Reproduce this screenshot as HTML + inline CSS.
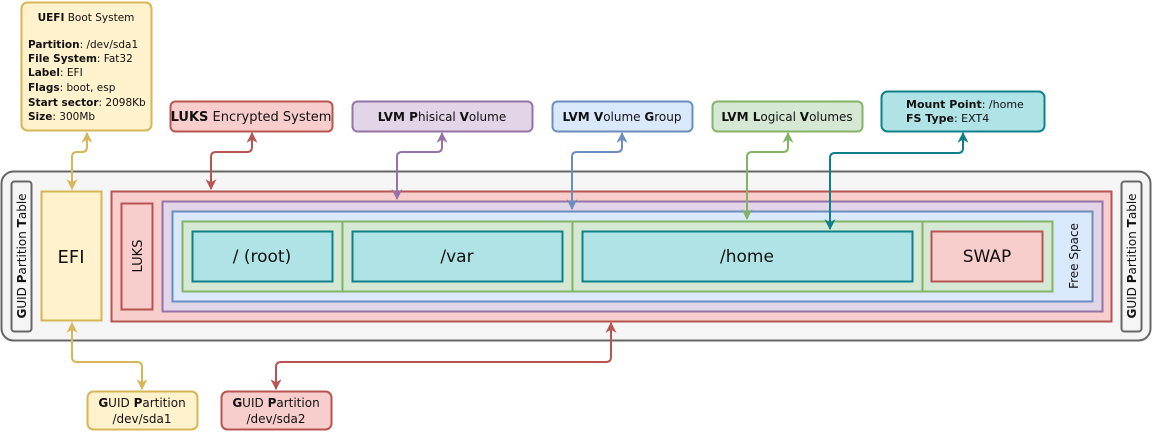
<!DOCTYPE html>
<html><head><meta charset="utf-8"><style>
html,body{margin:0;padding:0;background:#fff;}
svg{display:block;}
text{font-family:"DejaVu Sans","Liberation Sans",sans-serif;fill:#111;}
</style></head><body>
<svg width="1152" height="432" viewBox="0 0 1152 432" xmlns="http://www.w3.org/2000/svg">
<defs>
<marker id="my" viewBox="0 0 10 10" refX="9" refY="5" markerWidth="5.5" markerHeight="5.5" orient="auto-start-reverse"><path d="M0,0 L10,5 L0,10 L3,5 z" fill="#d6b656"/></marker>
<marker id="mr" viewBox="0 0 10 10" refX="9" refY="5" markerWidth="5.5" markerHeight="5.5" orient="auto-start-reverse"><path d="M0,0 L10,5 L0,10 L3,5 z" fill="#b85450"/></marker>
<marker id="mp" viewBox="0 0 10 10" refX="9" refY="5" markerWidth="5.5" markerHeight="5.5" orient="auto-start-reverse"><path d="M0,0 L10,5 L0,10 L3,5 z" fill="#9673a6"/></marker>
<marker id="mb" viewBox="0 0 10 10" refX="9" refY="5" markerWidth="5.5" markerHeight="5.5" orient="auto-start-reverse"><path d="M0,0 L10,5 L0,10 L3,5 z" fill="#6c8ebf"/></marker>
<marker id="mg" viewBox="0 0 10 10" refX="9" refY="5" markerWidth="5.5" markerHeight="5.5" orient="auto-start-reverse"><path d="M0,0 L10,5 L0,10 L3,5 z" fill="#82b366"/></marker>
<marker id="mt" viewBox="0 0 10 10" refX="9" refY="5" markerWidth="5.5" markerHeight="5.5" orient="auto-start-reverse"><path d="M0,0 L10,5 L0,10 L3,5 z" fill="#0e8088"/></marker>
</defs>

<rect x="1.5" y="171.5" width="1149" height="169" rx="12" fill="#f5f5f5" stroke="#666" stroke-width="2"/>
<rect x="11.5" y="181.5" width="20" height="150" rx="3" fill="#f5f5f5" stroke="#666" stroke-width="2"/>
<rect x="1121.5" y="181.5" width="20" height="150" rx="3" fill="#f5f5f5" stroke="#666" stroke-width="2"/>
<text transform="translate(26,256) rotate(-90)" font-size="12" text-anchor="middle"><tspan font-weight="bold">G</tspan>UID <tspan font-weight="bold">P</tspan>artition <tspan font-weight="bold">T</tspan>able</text>
<text transform="translate(1136,256) rotate(-90)" font-size="12" text-anchor="middle"><tspan font-weight="bold">G</tspan>UID <tspan font-weight="bold">P</tspan>artition <tspan font-weight="bold">T</tspan>able</text>

<rect x="41.5" y="191.5" width="60" height="129" fill="#fff2cc" stroke="#d6b656" stroke-width="2"/>
<text x="71" y="263" font-size="18" text-anchor="middle">EFI</text>

<rect x="111.5" y="191.5" width="1000" height="130" fill="#f8cecc" stroke="#b85450" stroke-width="2"/>
<rect x="121.5" y="203.5" width="31" height="106" fill="#f8cecc" stroke="#b85450" stroke-width="2"/>
<text transform="translate(142,256) rotate(-90)" font-size="13" text-anchor="middle">LUKS</text>

<rect x="162.5" y="201.5" width="940" height="110" fill="#e1d5e7" stroke="#9673a6" stroke-width="2"/>
<rect x="172.5" y="211.5" width="920" height="90" fill="#dae8fc" stroke="#6c8ebf" stroke-width="2"/>
<text transform="translate(1078,256) rotate(-90)" font-size="12" text-anchor="middle">Free Space</text>

<g fill="#d5e8d4" stroke="#82b366" stroke-width="2">
<rect x="182.5" y="221.5" width="160" height="70"/>
<rect x="342.5" y="221.5" width="230" height="70"/>
<rect x="572.5" y="221.5" width="350" height="70"/>
<rect x="922.5" y="221.5" width="130" height="70"/>
</g>
<g fill="#b0e3e6" stroke="#0e8088" stroke-width="2">
<rect x="192.5" y="231.5" width="140" height="50"/>
<rect x="352.5" y="231.5" width="210" height="50"/>
<rect x="582.5" y="231.5" width="330" height="50"/>
</g>
<rect x="931.5" y="231.5" width="111" height="50" fill="#f8cecc" stroke="#b85450" stroke-width="2"/>
<g font-size="17" text-anchor="middle">
<text x="262" y="262">/ (root)</text>
<text x="457" y="262">/var</text>
<text x="747" y="262">/home</text>
<text x="987" y="262">SWAP</text>
</g>

<rect x="21.5" y="2.5" width="130" height="128" rx="6" fill="#fff2cc" stroke="#d6b656" stroke-width="2"/>
<g font-size="10.5">
<text x="86" y="21" text-anchor="middle"><tspan font-weight="bold">UEFI</tspan> Boot System</text>
<text x="28" y="48"><tspan font-weight="bold">Partition</tspan>: /dev/sda1</text>
<text x="28" y="62"><tspan font-weight="bold">File System</tspan>: Fat32</text>
<text x="28" y="76"><tspan font-weight="bold">Label</tspan>: EFI</text>
<text x="28" y="91"><tspan font-weight="bold">Flags</tspan>: boot, esp</text>
<text x="28" y="106"><tspan font-weight="bold">Start sector</tspan>: 2098Kb</text>
<text x="28" y="120"><tspan font-weight="bold">Size</tspan>: 300Mb</text>
</g>
<rect x="170.5" y="101.5" width="162" height="30" rx="5" fill="#f8cecc" stroke="#b85450" stroke-width="2"/>
<text x="251" y="121" font-size="13" text-anchor="middle"><tspan font-weight="bold">LUKS</tspan> Encrypted System</text>
<rect x="352.5" y="101.5" width="180" height="30" rx="5" fill="#e1d5e7" stroke="#9673a6" stroke-width="2"/>
<text x="442" y="121" font-size="12" text-anchor="middle"><tspan font-weight="bold">LVM P</tspan>hisical <tspan font-weight="bold">V</tspan>olume</text>
<rect x="552.5" y="101.5" width="140" height="30" rx="5" fill="#dae8fc" stroke="#6c8ebf" stroke-width="2"/>
<text x="622" y="121" font-size="12" text-anchor="middle"><tspan font-weight="bold">LVM V</tspan>olume <tspan font-weight="bold">G</tspan>roup</text>
<rect x="712.5" y="101.5" width="150" height="30" rx="5" fill="#d5e8d4" stroke="#82b366" stroke-width="2"/>
<text x="787" y="121" font-size="12" text-anchor="middle"><tspan font-weight="bold">LVM L</tspan>ogical <tspan font-weight="bold">V</tspan>olumes</text>
<rect x="881.5" y="91.5" width="163" height="40" rx="6" fill="#b0e3e6" stroke="#0e8088" stroke-width="2"/>
<text x="906" y="108" font-size="11"><tspan font-weight="bold">Mount Point</tspan>: /home</text>
<text x="906" y="122" font-size="11"><tspan font-weight="bold">FS Type</tspan>: EXT4</text>

<rect x="87.5" y="391.5" width="110" height="38" rx="6" fill="#fff2cc" stroke="#d6b656" stroke-width="2"/>
<text x="142" y="407" font-size="12" text-anchor="middle"><tspan font-weight="bold">G</tspan>UID <tspan font-weight="bold">P</tspan>artition</text>
<text x="142" y="423" font-size="12" text-anchor="middle">/dev/sda1</text>
<rect x="221.5" y="391.5" width="110" height="38" rx="6" fill="#f8cecc" stroke="#b85450" stroke-width="2"/>
<text x="276" y="407" font-size="12" text-anchor="middle"><tspan font-weight="bold">G</tspan>UID <tspan font-weight="bold">P</tspan>artition</text>
<text x="276" y="423" font-size="12" text-anchor="middle">/dev/sda2</text>

<g fill="none" stroke-width="2">
<path d="M87,133 L87,147 Q87,152 82,152 L77,152 Q72,152 72,157 L72,189" stroke="#d6b656" marker-start="url(#my)" marker-end="url(#my)"/>
<path d="M252,133 L252,147 Q252,152 247,152 L216,152 Q211,152 211,157 L211,189" stroke="#b85450" marker-start="url(#mr)" marker-end="url(#mr)"/>
<path d="M442,133 L442,147 Q442,152 437,152 L402,152 Q397,152 397,157 L397,199" stroke="#9673a6" marker-start="url(#mp)" marker-end="url(#mp)"/>
<path d="M622,133 L622,147 Q622,152 617,152 L577,152 Q572,152 572,157 L572,209" stroke="#6c8ebf" marker-start="url(#mb)" marker-end="url(#mb)"/>
<path d="M788,133 L788,147 Q788,152 783,152 L752,152 Q747,152 747,157 L747,219" stroke="#82b366" marker-start="url(#mg)" marker-end="url(#mg)"/>
<path d="M963,133 L963,148 Q963,153 958,153 L835,153 Q830,153 830,158 L830,229" stroke="#0e8088" marker-start="url(#mt)" marker-end="url(#mt)"/>
<path d="M72,323 L72,357 Q72,362 77,362 L137,362 Q142,362 142,367 L142,389" stroke="#d6b656" marker-start="url(#my)" marker-end="url(#my)"/>
<path d="M611,323 L611,357 Q611,362 606,362 L281,362 Q276,362 276,367 L276,389" stroke="#b85450" marker-start="url(#mr)" marker-end="url(#mr)"/>
</g>
</svg>
</body></html>
